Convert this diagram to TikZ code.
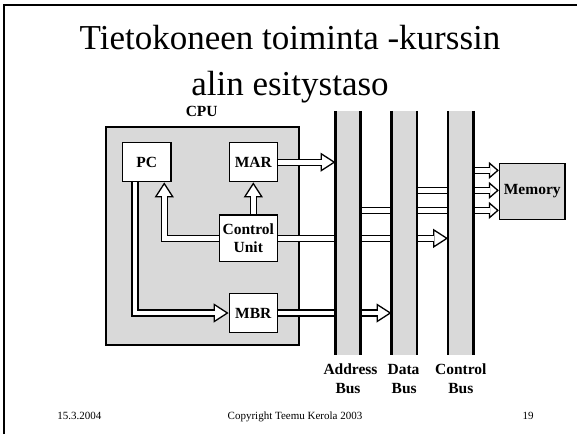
\documentclass[tikz,border=0pt]{standalone}
\usepackage{fontspec}
\setmainfont{Liberation Serif}
\usetikzlibrary{arrows.meta}
\pgfdeclarelayer{bg}
\pgfdeclarelayer{mid}
\pgfsetlayers{bg,mid,main}
\definecolor{boxgray}{RGB}{217,217,217}
\tikzset{
  lbl/.style={font=\fontsize{15.5}{18.5}\selectfont\bfseries},
  regbox/.style={draw, line width=1.3pt, fill=white, inner sep=0pt, lbl},
  busbar/.style={fill=boxgray, inner sep=0pt, minimum height=244pt},
  busedge/.style={line width=2.2pt},
  hshaft/.style={double=white, double distance=4.8pt, line width=1.3pt},
  bighead/.style={line width=1.3pt, -{Triangle[length=15pt,width=19pt,fill=white]}},
  smallhead/.style={line width=1.3pt, -{Triangle[length=10pt,width=17pt,fill=white]}},
  foot/.style={font=\fontsize{11}{13}\selectfont, anchor=base},
  ttl/.style={font=\fontsize{35}{40}\selectfont, anchor=base},
}
\newcommand\hollowarrow[3]{%
  \draw[#1] #3;
  \draw[hshaft, shorten >=#2] #3;}
\begin{document}
\begin{tikzpicture}[x=1pt,y=-1pt]
\useasboundingbox (0,0) rectangle (577,434);
\begin{pgfonlayer}{bg}
\fill[white] (0,0) rectangle (577,434);
\end{pgfonlayer}
\draw[line width=2pt] (3.5,434) -- (3.5,4.5) -- (577,4.5);
\node[ttl] (t1) at (290,49) {Tietokoneen toiminta -kurssin};
\node[ttl] (t2) at (290,95) {alin esitystaso};

\begin{pgfonlayer}{bg}
\node[draw, line width=2pt, fill=boxgray, minimum width=193.6pt, minimum height=218.3pt, inner sep=0pt] (cpu) at (202.5,235.85) {};
\end{pgfonlayer}
\node[lbl, anchor=base] (cpulbl) at (201.7,116.7) {CPU};

\node[regbox, minimum width=48.7pt, minimum height=39pt] (pc) at (146.65,162.2) {PC};
\node[regbox, minimum width=48pt, minimum height=39pt] (mar) at (253.3,162.2) {MAR};
\node[regbox, minimum width=58pt, minimum height=46.7pt, align=center] (cu) at (248.3,238.35) {Control\\Unit};
\node[regbox, minimum width=48pt, minimum height=39.4pt] (mbr) at (253.3,313) {MBR};

\node[busbar, minimum width=24.6pt] (abus) at (348,233) {};
\draw[busedge] (abus.north west) -- (abus.south west) (abus.north east) -- (abus.south east);
\node[busbar, minimum width=25pt] (dbus) at (404.2,233) {};
\draw[busedge] (dbus.north west) -- (dbus.south west) (dbus.north east) -- (dbus.south east);
\node[busbar, minimum width=25pt] (cbus) at (460.8,233) {};
\draw[busedge] (cbus.north west) -- (cbus.south west) (cbus.north east) -- (cbus.south east);

\node[lbl, anchor=base] (al1) at (350.5,374) {Address};
\node[lbl, anchor=base] (al2) at (348,393) {Bus};
\node[lbl, anchor=base] (dl1) at (403.5,374) {Data};
\node[lbl, anchor=base] (dl2) at (404.2,393) {Bus};
\node[lbl, anchor=base] (cl1) at (460.8,374) {Control};
\node[lbl, anchor=base] (cl2) at (460.8,393) {Bus};

\node[draw, line width=1.3pt, fill=boxgray, minimum width=65.5pt, minimum height=56.2pt, inner sep=0pt, lbl] (mem) at (532.25,191.4) {Memory};

\coordinate (m1) at ([yshift=21pt]mem.west);
\coordinate (m2) at ([yshift=1pt]mem.west);
\coordinate (m3) at ([yshift=-19pt]mem.west);

\begin{pgfonlayer}{mid}
\hollowarrow{bighead}{14pt}{(mar.east) -- (mar.east -| abus.west)}
\hollowarrow{bighead}{14pt}{(mar.south |- cu.north) -- (mar.south)}
\hollowarrow{bighead}{14pt}{(cu.west) -| ([xshift=17.6pt]pc.south)}
\hollowarrow{bighead}{14pt}{([xshift=-11.6pt]pc.south) |- (mbr.west)}
\hollowarrow{bighead}{14pt}{(mbr.east) -- (mbr.east -| dbus.west)}
\hollowarrow{bighead}{14pt}{(cu.east) -- (cu.east -| cbus.west)}
\hollowarrow{smallhead}{9pt}{(cbus.center |- m1) -- (m1)}
\hollowarrow{smallhead}{9pt}{(dbus.center |- m2) -- (m2)}
\hollowarrow{smallhead}{9pt}{(abus.center |- m3) -- (m3)}
\end{pgfonlayer}

\node[foot] (date) at (79.3,419) {15.3.2004};
\node[foot] (copy) at (295,419) {Copyright Teemu Kerola 2003};
\node[foot] (page) at (528,419) {19};
\end{tikzpicture}
\end{document}
